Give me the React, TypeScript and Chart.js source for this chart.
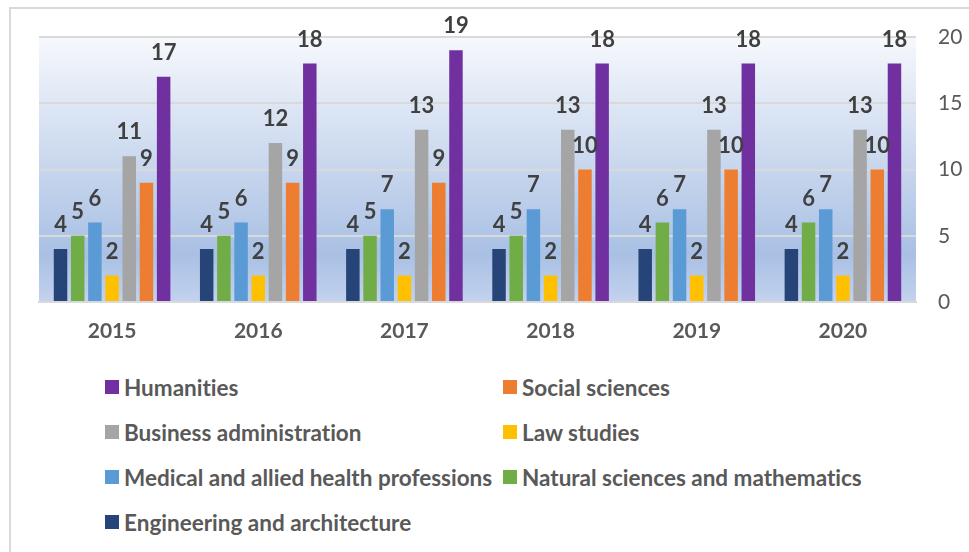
import React, { useEffect, useRef } from "react";
import { Chart, registerables } from "chart.js";

Chart.register(...registerables);

const years = ["2015", "2016", "2017", "2018", "2019", "2020"];
const engineering = [4, 4, 4, 4, 4, 4];
const natural = [5, 5, 5, 5, 6, 6];
const medical = [6, 6, 7, 7, 7, 7];
const law = [2, 2, 2, 2, 2, 2];
const business = [11, 12, 13, 13, 13, 13];
const social = [9, 9, 9, 10, 10, 10];
const humanities = [17, 18, 19, 18, 18, 18];

const seriesNames = [
  "Engineering and architecture",
  "Natural sciences and mathematics",
  "Medical and allied health professions",
  "Law studies",
  "Business administration",
  "Social sciences",
  "Humanities",
];
const seriesData = [engineering, natural, medical, law, business, social, humanities];
const seriesColors = ["#264478", "#70ad47", "#5b9bd5", "#ffc000", "#a5a5a5", "#ed7d31", "#7030a0"];

const yMin = 0;
const yMax = 20;
const yStep = 5;

const FONT = "Lato, 'Open Sans', sans-serif";

const bgPlugin = {
  id: "bgGradient",
  beforeDraw(chart: any) {
    const { ctx, chartArea: a } = chart;
    if (!a) return;
    const g = ctx.createLinearGradient(0, a.top, 0, a.bottom);
    g.addColorStop(0, "#f6f8fc");
    g.addColorStop(0.82, "#a9c0e4");
    g.addColorStop(1, "#c3d2ee");
    ctx.save();
    ctx.fillStyle = g;
    ctx.fillRect(a.left, a.top, a.right - a.left, a.bottom - a.top);
    ctx.restore();
  },
};

const labelPlugin = {
  id: "valueLabels",
  afterDatasetsDraw(chart: any) {
    const { ctx } = chart;
    ctx.save();
    ctx.font = `bold 22px ${FONT}`;
    ctx.fillStyle = "#404040";
    ctx.textAlign = "center";
    ctx.textBaseline = "middle";
    chart.data.datasets.forEach((ds: any, i: number) => {
      const meta = chart.getDatasetMeta(i);
      meta.data.forEach((el: any, j: number) => {
        ctx.fillText(String(ds.data[j]), el.x, el.y - 24);
      });
    });
    ctx.restore();
  },
};

export default function App() {
  const canvasRef = useRef<HTMLCanvasElement | null>(null);

  useEffect(() => {
    document.body.style.margin = "0";
    const canvas = canvasRef.current;
    if (!canvas) return;
    const chart = new Chart(canvas, {
      type: "bar",
      data: {
        labels: years,
        datasets: seriesNames.map((name, i) => ({
          label: name,
          data: seriesData[i],
          backgroundColor: seriesColors[i],
          borderWidth: 0,
          categoryPercentage: 0.823,
          barPercentage: 0.785,
        })),
      },
      options: {
        responsive: false,
        animation: false,
        layout: { padding: { left: 39, top: 37, right: 0, bottom: 0 } },
        plugins: {
          legend: { display: false },
          tooltip: { enabled: false },
        },
        scales: {
          x: {
            grid: { display: false, drawTicks: false },
            border: { display: true, color: "#d9d9d9", width: 2 },
            ticks: {
              color: "#595959",
              font: { family: FONT, size: 21, weight: "bold" },
              padding: 17,
            },
            afterFit(scale: any) {
              scale.height = 360 - 302;
            },
          },
          y: {
            position: "right",
            min: yMin,
            max: yMax,
            grid: { color: "#d9d9d9", lineWidth: 2, drawTicks: false },
            border: { display: false },
            ticks: {
              stepSize: yStep,
              color: "#595959",
              font: { family: FONT, size: 21 },
              padding: 22,
            },
            afterFit(scale: any) {
              scale.width = 969 - 916;
            },
          },
        },
      },
      plugins: [bgPlugin, labelPlugin],
    });
    return () => chart.destroy();
  }, []);

  const legendOrder = [6, 5, 4, 3, 2, 1, 0];
  const rowCenters = [387, 432, 477, 522];
  const colMarker = [105, 503];

  return (
    <div style={{ position: "relative", width: 969, height: 552, overflow: "hidden", background: "#fff" }}>
      <div
        style={{
          position: "absolute",
          left: 9,
          top: 7,
          width: 1100,
          height: 700,
          border: "2px solid #d9d9d9",
          boxSizing: "border-box",
        }}
      />
      <canvas
        ref={canvasRef}
        width={969}
        height={360}
        style={{ position: "absolute", left: 0, top: 0, width: 969, height: 360 }}
      />
      {legendOrder.map((si, k) => {
        const row = Math.floor(k / 2);
        const col = k % 2;
        const cy = rowCenters[row];
        return (
          <div
            key={si}
            style={{
              position: "absolute",
              left: colMarker[col],
              top: cy - 15,
              height: 30,
              display: "flex",
              alignItems: "center",
              whiteSpace: "nowrap",
              fontFamily: FONT,
              fontWeight: "bold",
              fontSize: 22.5,
              fontVariantLigatures: "none",
              color: "#595959",
            }}
          >
            <span
              style={{
                display: "inline-block",
                width: 14,
                height: 14,
                background: seriesColors[si],
                marginRight: 5,
              }}
            />
            <span>{seriesNames[si]}</span>
          </div>
        );
      })}
    </div>
  );
}
